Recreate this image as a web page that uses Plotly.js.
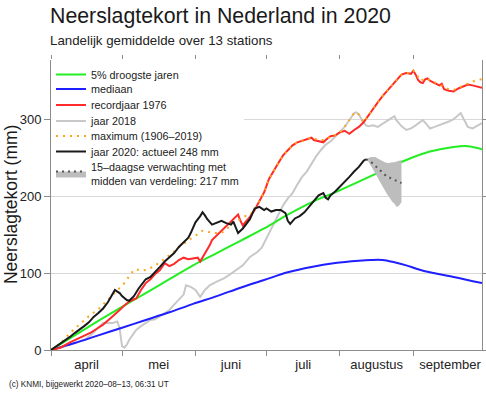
<!DOCTYPE html>
<html><head><meta charset="utf-8">
<script src="https://cdn.plot.ly/plotly-3.0.1.min.js"></script>
<style>html,body{margin:0;padding:0;background:#fff}#chart{width:486px;height:393px}</style>
</head><body><div id="chart"></div>
<script>
// Day offsets from 1 April 2020 (0 = 1 april)
const greenDays = [0,10,20,30,40,50,60,70,80,90,100,110,120,130,140,150,160,170,176,182];
const greenVals = [0,19,38,56,74,92,110,126,142,158,176,192,205,219,233,247,258,264,265,261];

const blueDays = [0,10,20,30,40,50,60,70,80,90,100,110,120,130,135,140,145,150,155,160,170,182];
const blueVals = [0,9,19,29,39,49,60,70,81,91,101,108,113,116,117,117,114,110,105,101,95,87];

const redDays = [0,4,8,11,14,17,19,22,25,27,29,31,33,35,36,38,40,42,44,46,48,50,52,54,56,58,60,62,63,65,67,68,70,72,74,76,78,79,80,81,82,84,86,88,90,92,94,96,98,100,102,104,106,108,110,111,113,115,116,118,120,122,124,126,128,130,132,134,136,138,140,142,144,146,148,150,152,153,154,155,156,157,158,159,160,162,164,165,166,168,170,172,174,176,178,180,182];
const redVals = [0,3,10,14,18,23,27,33,41,46,52,58,63,66,67,78,87,92,99,104,113,109,112,117,120,118,119,120,115,125,136,143,149,155,161,167,174,176,168,162,166,173,182,194,205,222,233,243,253,259,266,270,272,275,276,273,271,270,273,278,279,283,285,281,286,290,296,305,313,322,330,337,345,352,358,360,359,363,358,351,348,347,352,353,350,347,344,346,339,337,336,340,343,345,344,342,341];

const grayDays = [0,4,8,11,14,17,19,21,22,24,26,28,29,30,31,32,33,35,36,38,40,42,44,46,48,50,52,54,56,57,59,61,63,65,67,70,73,75,78,81,84,87,89,91,94,96,98,100,102,104,106,108,110,112,114,116,118,120,122,124,126,128,129,130,132,133,134,136,138,140,142,144,145,146,148,150,152,154,156,157,159,160,162,164,166,168,170,172,173,174,176,178,180,182];
const grayVals = [0,3,7,10,13,20,26,32,35,35,35,37,28,5,3,7,13,22,26,31,35,39,40,44,49,52,59,66,72,84,82,78,69,78,84,89,93,97,104,110,121,127,133,145,162,176,188,197,204,215,225,232,242,252,260,267,271,277,283,290,299,308,309,306,296,292,291,292,290,294,298,303,304,298,291,286,288,292,297,299,292,288,290,292,295,297,300,306,308,302,290,288,291,295];

const maxDays = [0,3,5,8,12,16,20,23,26,29,31,33,35,36,38,40,43,46,49,52,54,57,60,63,64,66,68,70,72,74,76,78,80,82,84,86,88,90,92,94,96,98,100,102,104,106,108,110,113,116,118,120,122,124,126,128,129,130,132,134,136,138,140,142,144,146,148,150,152,153,154,156,158,160,162,164,166,168,170,172,174,176,178,180,182];
const maxVals = [0,6,12,22,33,44,53,62,71,80,87,96,104,105,103,104,108,114,121,128,134,140,146,152,155,154,152,152,152,157,162,167,170,174,176,182,194,205,222,233,243,253,259,266,270,272,275,276,273,273,278,279,283,290,299,308,309,306,296,305,313,322,330,337,345,352,358,360,360,363,360,350,353,351,348,345,341,339,338,341,344,346,349,351,352];

const d2020Days = [0,2,4,6,8,10,12,14,16,18,20,22,24,26,27,28,29,30,31,32,33,34,35,37,39,40,42,44,46,48,50,52,54,56,58,59,61,63,64,65,66,68,70,72,74,76,77,78,79,81,83,84,86,88,90,91,93,95,97,99,100,101,103,105,107,109,111,113,115,116,117,118,120,122,124,126,128,130,132,133];
const d2020Vals = [0,4,9,13,17,22,26,31,36,43,48,54,62,72,78,76,74,70,67,65,64,67,70,80,89,92,95,101,108,115,120,126,134,140,146,152,166,174,179,175,170,163,165,168,165,163,167,160,152,158,166,170,184,186,182,184,180,182,182,178,168,164,171,174,179,186,193,201,204,198,196,201,206,212,218,225,232,238,246,248];

const fcDays  = [133,134,135,136,137,138,139,140,141,142,143,144,145,146,147,148];
const fcUpper = [248,250,251,251,251,249,247,245,244,243,243,244,244,245,246,247];
const fcMid   = [248,247,245,242,239,236,233,230,228,225,224,222,221,220,218,217];
const fcLower = [248,245,240,235,230,224,218,212,207,202,198,193,190,186,188,192];

const yTicks = [0,100,200,300];
const monthNames = ['januari','februari','maart','april','mei','juni','juli','augustus','september','oktober','november','december'];

Plotly.register({
  moduleType: 'locale', name: 'nl', dictionary: {},
  format: {
    days: ['zondag','maandag','dinsdag','woensdag','donderdag','vrijdag','zaterdag'],
    shortDays: ['zo','ma','di','wo','do','vr','za'],
    months: monthNames,
    shortMonths: ['jan','feb','mrt','apr','mei','jun','jul','aug','sep','okt','nov','dec'],
    date: '%d-%m-%Y'
  }
});

const START = Date.UTC(2020, 3, 1);
function toDate(d) { return new Date(START + d * 86400000).toISOString().slice(0, 10); }
function dates(arr) { return arr.map(toDate); }

const FONT = 'Liberation Sans, Arial, Helvetica, sans-serif';

const traces = [
  {x: dates(grayDays), y: grayVals, name: 'jaar 2018', mode: 'lines', line: {color: '#c8c8c8', width: 2}, legendrank: 4},
  {x: dates(blueDays), y: blueVals, name: 'mediaan', mode: 'lines', line: {color: '#1f1fff', width: 2, shape: 'spline'}, legendrank: 2},
  {x: dates(greenDays), y: greenVals, name: '5% droogste jaren', mode: 'lines', line: {color: '#22ee22', width: 2, shape: 'spline'}, legendrank: 1},
  {x: dates(redDays), y: redVals, name: 'recordjaar 1976', mode: 'lines', line: {color: '#ff2a2a', width: 2}, legendrank: 3},
  {x: dates(maxDays), y: maxVals, name: 'maximum (1906–2019)', mode: 'lines', line: {color: '#ffa31a', width: 2, dash: '2px,5px'}, legendrank: 5},
  {x: dates(fcDays), y: fcUpper, mode: 'lines', line: {width: 0, color: '#bdbdbd'}, showlegend: false, hoverinfo: 'skip'},
  {x: dates(fcDays), y: fcMid, name: '15–daagse verwachting met<br>midden van verdeling: 217 mm', mode: 'lines', fill: 'tonexty', fillcolor: '#bdbdbd', line: {color: '#555555', width: 2, dash: '2px,4px'}, legendrank: 7},
  {x: dates(fcDays), y: fcLower, mode: 'lines', fill: 'tonexty', fillcolor: '#bdbdbd', line: {width: 0, color: '#bdbdbd'}, showlegend: false, hoverinfo: 'skip'},
  {x: dates(d2020Days), y: d2020Vals, name: 'jaar 2020: actueel 248 mm', mode: 'lines', line: {color: '#1a1a1a', width: 2}, legendrank: 6},
  {x: [], y: [], xaxis: 'x2', showlegend: false, hoverinfo: 'skip'}
];

const AXC = '#8c8c8c';
const xRange = ['2020-04-01', '2020-09-30'];
const layout = {
  width: 486, height: 393,
  margin: {l: 51, r: 3.5, t: 60, b: 43},
  paper_bgcolor: '#fff', plot_bgcolor: '#fff',
  font: {family: FONT, color: '#222'},
  title: {
    text: 'Neerslagtekort in Nederland in 2020',
    font: {size: 21.3, color: '#1a1a1a', family: FONT},
    xref: 'container', x: 50 / 486, xanchor: 'left',
    yref: 'container', y: 1 - 16 / 393, yanchor: 'middle'
  },
  xaxis: {
    type: 'date', range: xRange, tick0: '2020-04-01', dtick: 'M1',
    ticklabelmode: 'period', tickformat: '%B',
    ticks: 'outside', ticklen: 5, tickcolor: AXC, tickwidth: 1,
    ticklabelstandoff: -3,
    showline: true, linecolor: AXC, linewidth: 1,
    showgrid: false, zeroline: false,
    tickfont: {size: 13, color: '#222'}
  },
  xaxis2: {
    type: 'date', range: xRange, tick0: '2020-04-01', dtick: 'M1',
    overlaying: 'x', side: 'top', anchor: 'y',
    ticks: 'outside', ticklen: 4, tickcolor: AXC, tickwidth: 1,
    showticklabels: false, showline: false, showgrid: false, zeroline: false
  },
  yaxis: {
    range: [0, 377], tickvals: yTicks,
    ticks: 'outside', ticklen: 6, tickcolor: AXC, tickwidth: 1,
    showline: true, mirror: 'ticks', linecolor: AXC, linewidth: 1,
    gridcolor: '#d9d9d9', gridwidth: 1, zeroline: false,
    tickfont: {size: 13, color: '#222'}
  },
  legend: {
    x: 0, y: 1, xanchor: 'left', yanchor: 'top',
    bgcolor: '#ffffff', borderwidth: 0,
    font: {size: 10.8, color: '#222', family: FONT},
    traceorder: 'normal'
  },
  showlegend: true,
  annotations: [
    {text: 'Neerslagtekort (mm)', xref: 'paper', yref: 'paper',
     x: (11 - 51) / 431.5, y: 0.5, xanchor: 'center', yanchor: 'middle', textangle: -90,
     showarrow: false, font: {size: 17.5, color: '#1a1a1a'}},
    {text: 'Landelijk gemiddelde over 13 stations', xref: 'paper', yref: 'paper',
     x: 0, y: (350 - 40) / 290, xanchor: 'left', yanchor: 'middle', xshift: -3,
     showarrow: false, font: {size: 13.3, color: '#222'}},
    {text: '(c) KNMI, bijgewerkt 2020–08–13, 06:31 UT', xref: 'paper', yref: 'paper',
     x: (7 - 51) / 431.5, y: (350 - 384) / 290, xanchor: 'left', yanchor: 'middle',
     showarrow: false, font: {size: 8.2, color: '#222'}}
  ]
};

// row offsets of the legend entries (px), as in the reference legend
const legendRowOffsets = [0, 14.5, 30.5, 46.5, 61.5, 77, 99];

Plotly.newPlot('chart', traces, layout, {staticPlot: true, displayModeBar: false, locale: 'nl'}).then(function (gd) {
  const items = gd.querySelectorAll('g.legend g.traces');
  if (!items.length) return;
  const pos = [];
  items.forEach(function (el) {
    const m = /translate\(\s*([-\d.e]+)[ ,]+([-\d.e]+)\s*\)/.exec(el.getAttribute('transform') || '');
    pos.push(m ? [parseFloat(m[1]), parseFloat(m[2])] : [0, 0]);
  });
  const y0 = pos[0][1];
  let lastOld = pos[pos.length - 1][1], lastNew = lastOld;
  items.forEach(function (el, i) {
    const off = i < legendRowOffsets.length ? legendRowOffsets[i] : (pos[i][1] - y0);
    const ny = y0 + off;
    if (i === items.length - 1) lastNew = ny;
    el.setAttribute('transform', 'translate(' + pos[i][0] + ',' + ny + ')');
  });
  const shrink = lastOld - lastNew;
  gd.querySelectorAll('g.legend rect.bg').forEach(function (r) {
    const h = parseFloat(r.getAttribute('height'));
    if (!isNaN(h)) r.setAttribute('height', Math.max(0, h - shrink));
  });
});
</script>
</body></html>
